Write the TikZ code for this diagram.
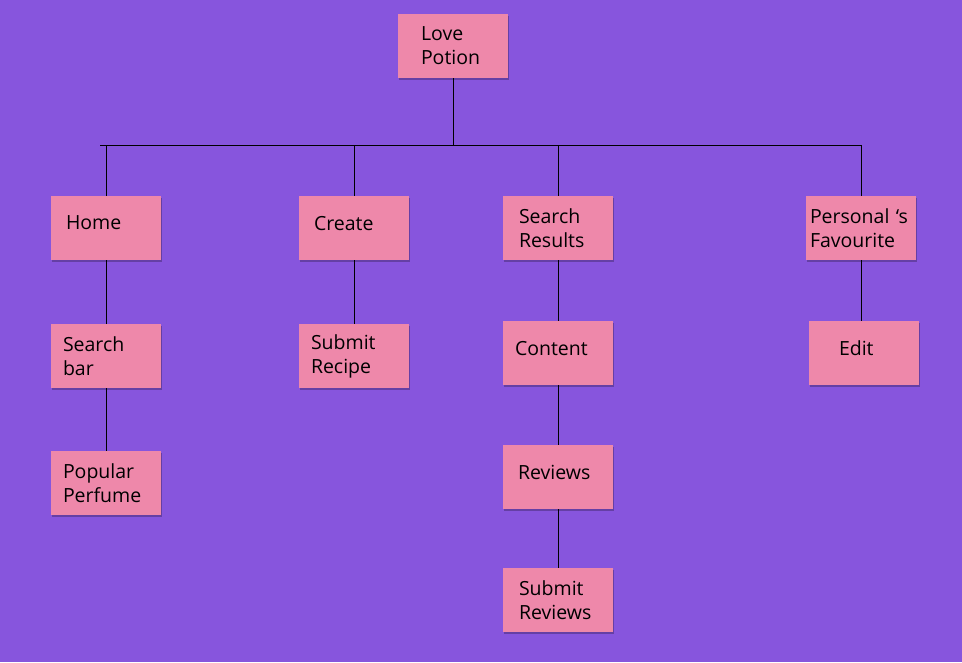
\documentclass[tikz,border=0pt]{standalone}
\usepackage{fontspec}
\setmainfont{Open Sans}
\usetikzlibrary{shadows}
\definecolor{bgpurple}{RGB}{135,85,221}
\definecolor{cardpink}{RGB}{238,136,170}

\tikzset{
  card/.style={fill=cardpink, minimum width=110pt, minimum height=64pt,
    inner xsep=0pt, align=left, text width=#1,
    font=\fontsize{19.5pt}{24pt}\selectfont,
    drop shadow={shadow xshift=1pt, shadow yshift=-2pt, opacity=0.25, fill=black}},
  card/.default=80pt,
  oneline/.style={text depth=10pt},
  link/.style={draw=black, line width=1pt}
}

\begin{document}
\begin{tikzpicture}[x=1pt,y=-1pt]
    \fill[bgpurple] (0,0) rectangle (962,662);
    \useasboundingbox (0,0) rectangle (962,662);

    % Nodes
    \node[card=64pt] (potion) at (453,46) {Love\\Potion};

    \node[card=80pt, oneline] (home) at (106,228) {Home};
    \node[card=80pt, oneline] (create) at (354,228) {Create};
    \node[card=78pt] (results) at (558,228) {Search\\Results};
    \node[card=102pt] (fav) at (861,228) {Personal `s\\Favourite};

    \node[card=86pt] (searchbar) at (106,356) {Search\\bar};
    \node[card=86pt] (popular) at (106,483) {Popular\\Perfume};

    \node[card=86pt] (recipe) at (354,356) {Submit\\Recipe};

    \node[card=86pt, oneline] (content) at (558,353) {Content};
    \node[card=80pt, oneline] (reviews) at (558,477) {Reviews};
    \node[card=78pt] (subreviews) at (558,600) {Submit\\Reviews};

    \node[card=50pt, oneline] (edit) at (864,353) {Edit};

    % Bus
    \coordinate (busL) at (100,145);
    \coordinate (busR) at (862,145);
    \coordinate (busC) at (potion |- busL);

    % Lines
    \draw[link] (busL) -- (busR);
    \draw[link] (potion) -- (busC);
    \draw[link] (home |- busL) -- (home);
    \draw[link] (create |- busL) -- (create);
    \draw[link] (results |- busL) -- (results);
    \draw[link] (fav |- busL) -- (fav);

    \draw[link] (home) -- (searchbar);
    \draw[link] (searchbar) -- (popular);
    \draw[link] (create) -- (recipe);
    \draw[link] (results) -- (content);
    \draw[link] (content) -- (reviews);
    \draw[link] (reviews) -- (subreviews);
    \draw[link] (fav) -- (fav |- edit.north);
\end{tikzpicture}
\end{document}
